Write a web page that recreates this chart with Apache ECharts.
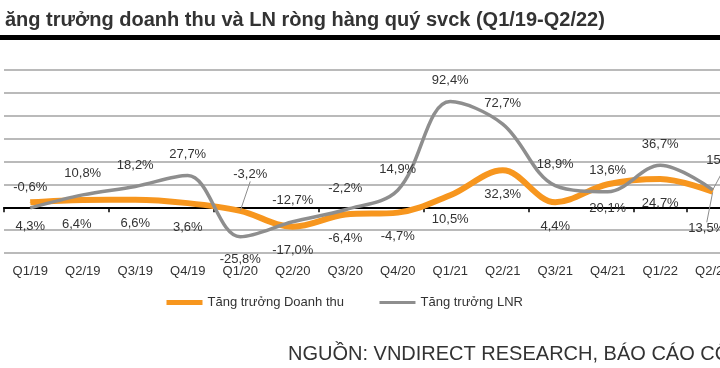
<!DOCTYPE html>
<html><head><meta charset="utf-8">
<script src="https://cdn.jsdelivr.net/npm/echarts@6/dist/echarts.min.js"></script>
<style>html,body{margin:0;padding:0;background:#fff}#c{width:720px;height:368px}</style>
</head><body><div id="c"></div>
<script>
const categories = ['Q1/19','Q2/19','Q3/19','Q4/19','Q1/20','Q2/20','Q3/20','Q4/20','Q1/21','Q2/21','Q3/21','Q4/21','Q1/22','Q2/22'];
const revenueGrowth = [4.3, 6.4, 6.6, 3.6, -3.2, -17.0, -6.4, -4.7, 10.5, 32.3, 4.4, 20.1, 24.7, 13.5];
const profitGrowth = [-0.6, 10.8, 18.2, 27.7, -25.8, -12.7, -2.2, 14.9, 92.4, 72.7, 18.9, 13.6, 36.7, 15.2];
const yMin = -40, yMax = 120, yStep = 20;
const seriesNames = ['Tăng trưởng Doanh thu', 'Tăng trưởng LNR'];
const titleText = 'ăng trưởng doanh thu và LN ròng hàng quý svck (Q1/19-Q2/22)';
const sourceText = 'NGUỒN: VNDIRECT RESEARCH, BÁO CÁO CÔNG TY';

const fmt = v => v.toFixed(1).replace('.', ',') + '%';
const FONT = 'Liberation Sans, Arial, sans-serif';
const LEADER = {show: true, lineStyle: {color: '#8c8c8c', width: 1}};
const ORANGE = '#F7961E', GREY = '#8E8E8E';

// label nudges in pixels
const revAdj = {1: [-6, 0], 4: [10, -60], 13: [-6, 13]};
const revLeader = {4: true, 13: true};
const profAdj = {4: [0, 44], 13: [12, -8]};
const profLeader = {13: true};

function buildData(values, adj, leader) {
  return values.map((v, i) => {
    const item = {value: v};
    if (leader[i]) item.labelLine = LEADER;
    return item;
  });
}
function layoutFn(adj) {
  return p => {
    const a = adj[p.dataIndex];
    return a ? {dx: a[0], dy: a[1]} : {};
  };
}

const chart = echarts.init(document.getElementById('c'));
chart.setOption({
  animation: false,
  backgroundColor: '#fff',
  title: [
    {text: titleText, left: 0, top: 5, textStyle: {fontFamily: FONT, fontSize: 20, fontWeight: 'bold', color: '#333'}},
    {text: sourceText, left: 283, top: 339, textStyle: {fontFamily: FONT, fontSize: 20, fontWeight: 'normal', color: '#333'}}
  ],
  graphic: [{type: 'rect', left: 0, top: 35, shape: {width: 720, height: 5}, style: {fill: '#000'}}],
  grid: {left: 4, width: 735, top: 70, height: 183, containLabel: false, outerBoundsMode: 'none'},
  legend: {
    left: 159, top: 291, itemWidth: 36, itemHeight: 14, itemGap: 34,
    itemStyle: {opacity: 0},
    textStyle: {fontFamily: FONT, fontSize: 13, color: '#333'},
    data: [
      {name: seriesNames[0], lineStyle: {width: 5, color: ORANGE}},
      {name: seriesNames[1], lineStyle: {width: 3, color: GREY}}
    ]
  },
  xAxis: {
    type: 'category', data: categories, boundaryGap: true,
    axisLine: {onZero: true, lineStyle: {color: '#000', width: 2}},
    axisTick: {show: true, interval: 1, length: 5, lineStyle: {color: '#000', width: 1.5}},
    axisLabel: {interval: 0, margin: 12, fontFamily: FONT, fontSize: 13, color: '#333'}
  },
  yAxis: {
    type: 'value', min: yMin, max: yMax, interval: yStep,
    axisLabel: {show: false}, axisLine: {show: false}, axisTick: {show: false},
    splitLine: {lineStyle: {color: '#a3a3a3', width: 1.5}}
  },
  series: [
    {
      name: seriesNames[0], type: 'line', smooth: 0.35, z: 3,
      data: buildData(revenueGrowth, revAdj, revLeader),
      symbol: 'circle', symbolSize: 1, showSymbol: true,
      itemStyle: {color: ORANGE},
      lineStyle: {color: ORANGE, width: 6},
      label: {show: true, position: 'bottom', distance: 17, formatter: p => fmt(p.value),
              fontFamily: FONT, fontSize: 13, color: '#333'},
      labelLayout: layoutFn(revAdj)
    },
    {
      name: seriesNames[1], type: 'line', smooth: 0.35, z: 4,
      data: buildData(profitGrowth, profAdj, profLeader),
      symbol: 'circle', symbolSize: 1, showSymbol: true,
      itemStyle: {color: GREY},
      lineStyle: {color: GREY, width: 3.5},
      label: {show: true, position: 'top', distance: 14, formatter: p => fmt(p.value),
              fontFamily: FONT, fontSize: 13, color: '#333'},
      labelLayout: layoutFn(profAdj)
    }
  ]
});
</script></body></html>
